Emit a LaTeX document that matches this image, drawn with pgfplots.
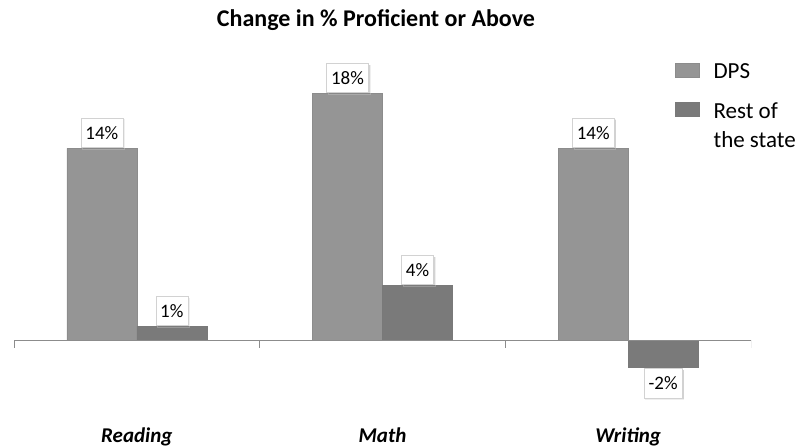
\documentclass[border=0pt]{standalone}
\usepackage{pgfplots}
\pgfplotsset{compat=1.18}
\usepackage{fontspec}
\setmainfont{Carlito}
\usetikzlibrary{shadows}
\definecolor{cdps}{HTML}{959595}
\definecolor{crest}{HTML}{7A7A7A}
\definecolor{caxis}{HTML}{8C8C8C}
\begin{document}
\begin{tikzpicture}
\path[use as bounding box] (0,0) rectangle (799pt,447pt);
\begin{axis}[
  at={(14pt,52pt)}, anchor=south west,
  scale only axis, width=737pt, height=329pt,
  xmin=-0.5, xmax=2.5, ymin=-4, ymax=20,
  ybar=0pt, bar width=70pt,
  axis line style={draw=none},
  tick style={draw=none},
  ytick=\empty,
  xtick={0,1,2},
  xticklabels={Reading,Math,Writing},
  xticklabel style={font=\fontsize{21}{24}\selectfont\bfseries\itshape, anchor=base, yshift=-43pt},
  /pgf/number format/assume math mode=true,
  nodes near coords={\pgfmathprintnumber{\pgfplotspointmeta}\%},
  nodes near coords style={font=\fontsize{19}{22}\selectfont, fill=white, draw=gray!35, drop shadow={shadow xshift=1.5pt, shadow yshift=-1.5pt, opacity=0.35}, inner xsep=4.5pt, inner ysep=8pt, outer sep=1pt},
  legend style={at={(0.893,1.02)}, anchor=north west, draw=none, fill=none,
    font=\fontsize{23}{29}\selectfont, row sep=18pt, cells={anchor=north west, align=left}},
  legend image code/.code={\path[draw=none,fill=none] (0pt,-16pt) rectangle (36pt,-1pt); \draw[#1] (0pt,-15.5pt) rectangle (24pt,-1.5pt);},
]
\addplot[fill=cdps, draw=gray!90] coordinates {(0,14) (1,18) (2,14)};
\addplot[fill=crest, draw=gray!95!black] coordinates {(0,1) (1,4) (2,-2)};
\legend{DPS, {Rest of\\the state}}
\draw[caxis, line width=0.9pt] (axis cs:-0.5,0) -- (axis cs:2.5,0);
\draw[caxis, line width=0.9pt] (axis cs:-0.5,0) -- ([yshift=-8pt]axis cs:-0.5,0);
\draw[caxis, line width=0.9pt] (axis cs:0.5,0) -- ([yshift=-8pt]axis cs:0.5,0);
\draw[caxis, line width=0.9pt] (axis cs:1.5,0) -- ([yshift=-8pt]axis cs:1.5,0);
\draw[caxis, line width=0.9pt] (axis cs:2.5,0) -- ([yshift=-8pt]axis cs:2.5,0);
\end{axis}
\node[font=\fontsize{24}{28}\selectfont\bfseries] at (376pt,427pt) {Change in \% Proficient or Above};
\end{tikzpicture}
\end{document}
